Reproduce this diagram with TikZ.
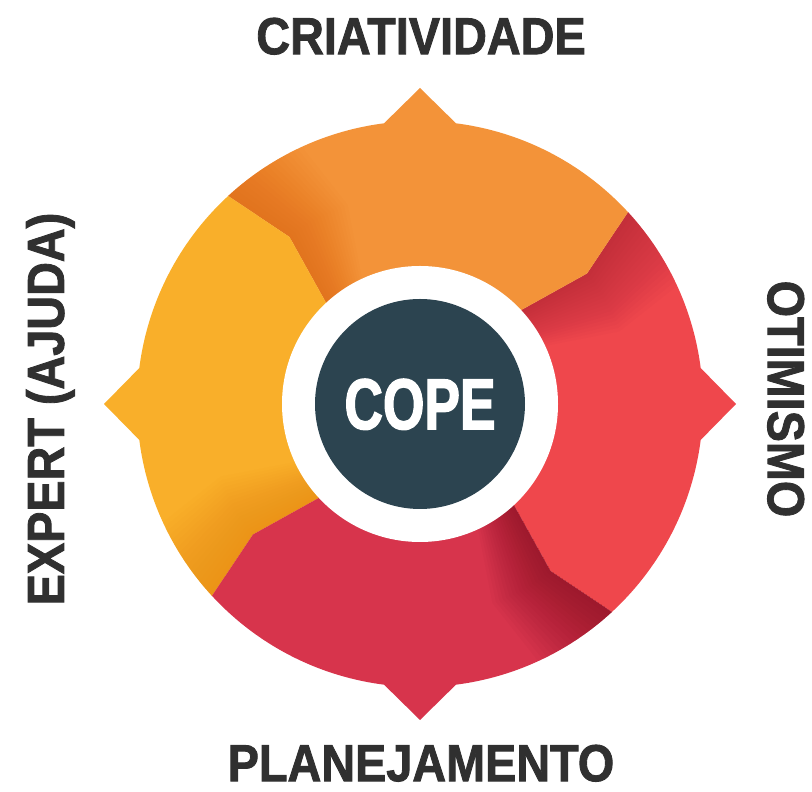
\documentclass[tikz,border=0pt]{standalone}
\usepackage{fontspec}
\newfontfamily\labelfont{Liberation Sans}[FakeStretch=0.9, FakeBold=1.6]
\newfontfamily\copefont{Liberation Sans}[FakeStretch=0.74, FakeBold=1.8]

\definecolor{labelgray}{HTML}{303030}
\definecolor{hubslate}{HTML}{2C4450}
\definecolor{orangeseg}{HTML}{F39339}
\definecolor{orangedark}{HTML}{E25E0C}
\definecolor{yellowseg}{HTML}{F9AF2A}
\definecolor{yellowdark}{HTML}{EC820C}
\definecolor{redseg}{HTML}{EF474C}
\definecolor{reddark}{HTML}{A41F37}
\definecolor{crimsonseg}{HTML}{D7344C}
\definecolor{crimsondark}{HTML}{6D0717}

\begin{document}
\begin{tikzpicture}[
    x=1pt, y=1pt,
    title/.style={font=\labelfont\bfseries\fontsize{52}{52}\selectfont, text=labelgray, inner sep=0pt, text depth=0pt},
    ring/.style={circle, fill=white, minimum size=276pt, inner sep=0pt},
    hub/.style={circle, fill=hubslate, minimum size=210pt, inner sep=0pt, text=white, text depth=0pt,
                font=\copefont\bfseries\fontsize{72}{72}\selectfont}
]

\useasboundingbox (0,0) rectangle (812,792);
\coordinate (c) at (420,388);

% Badge: four coloured parts, cut to a circle with four points
\begin{scope}[shift={(c)}]
  \clip (-7.3:283) -- (0:316) -- (7.3:283) arc[start angle=7.3, end angle=82.7, radius=283]
     -- (90:316) -- (97.3:283) arc[start angle=97.3, end angle=172.7, radius=283]
     -- (180:316) -- (187.3:283) arc[start angle=187.3, end angle=262.7, radius=283]
     -- (270:316) -- (277.3:283) arc[start angle=277.3, end angle=352.7, radius=283] -- cycle;
  \foreach \from/\col in {-45/red, 45/orange, 135/yellow, 225/crimson} {
    \pgfmathsetmacro\to{\from+90}
    \fill[\col seg] (\from:120) -- (\from-7:212) -- (\from:340) -- (\from+45:420)
      -- (\to:340) -- (\to-7:212) -- (\to:120) -- cycle;
    % shadow where the next part lies on top
    \foreach \d in {1,...,18}
      \fill[\col dark, opacity=0.035] (\to:120) -- (\to-7:212) -- (\to:340)
        -- (\to-\d:340) -- (\to-7-\d:212) -- (\to-\d:120) -- cycle;
  }
\end{scope}

% Centre
\node[ring] (ring) at (c) {};
\node[hub] (cope) at (c) {COPE};

% Titles
\node[title] (crea) at (421,756) {CRIATIVIDADE};
\node[title, rotate=-90] (otim) at (786,393) {OTIMISMO};
\node[title] (plan) at (421,29) {PLANEJAMENTO};
\node[title, rotate=90] (expert) at (45,383) {EXPERT (AJUDA)};

\end{tikzpicture}
\end{document}
